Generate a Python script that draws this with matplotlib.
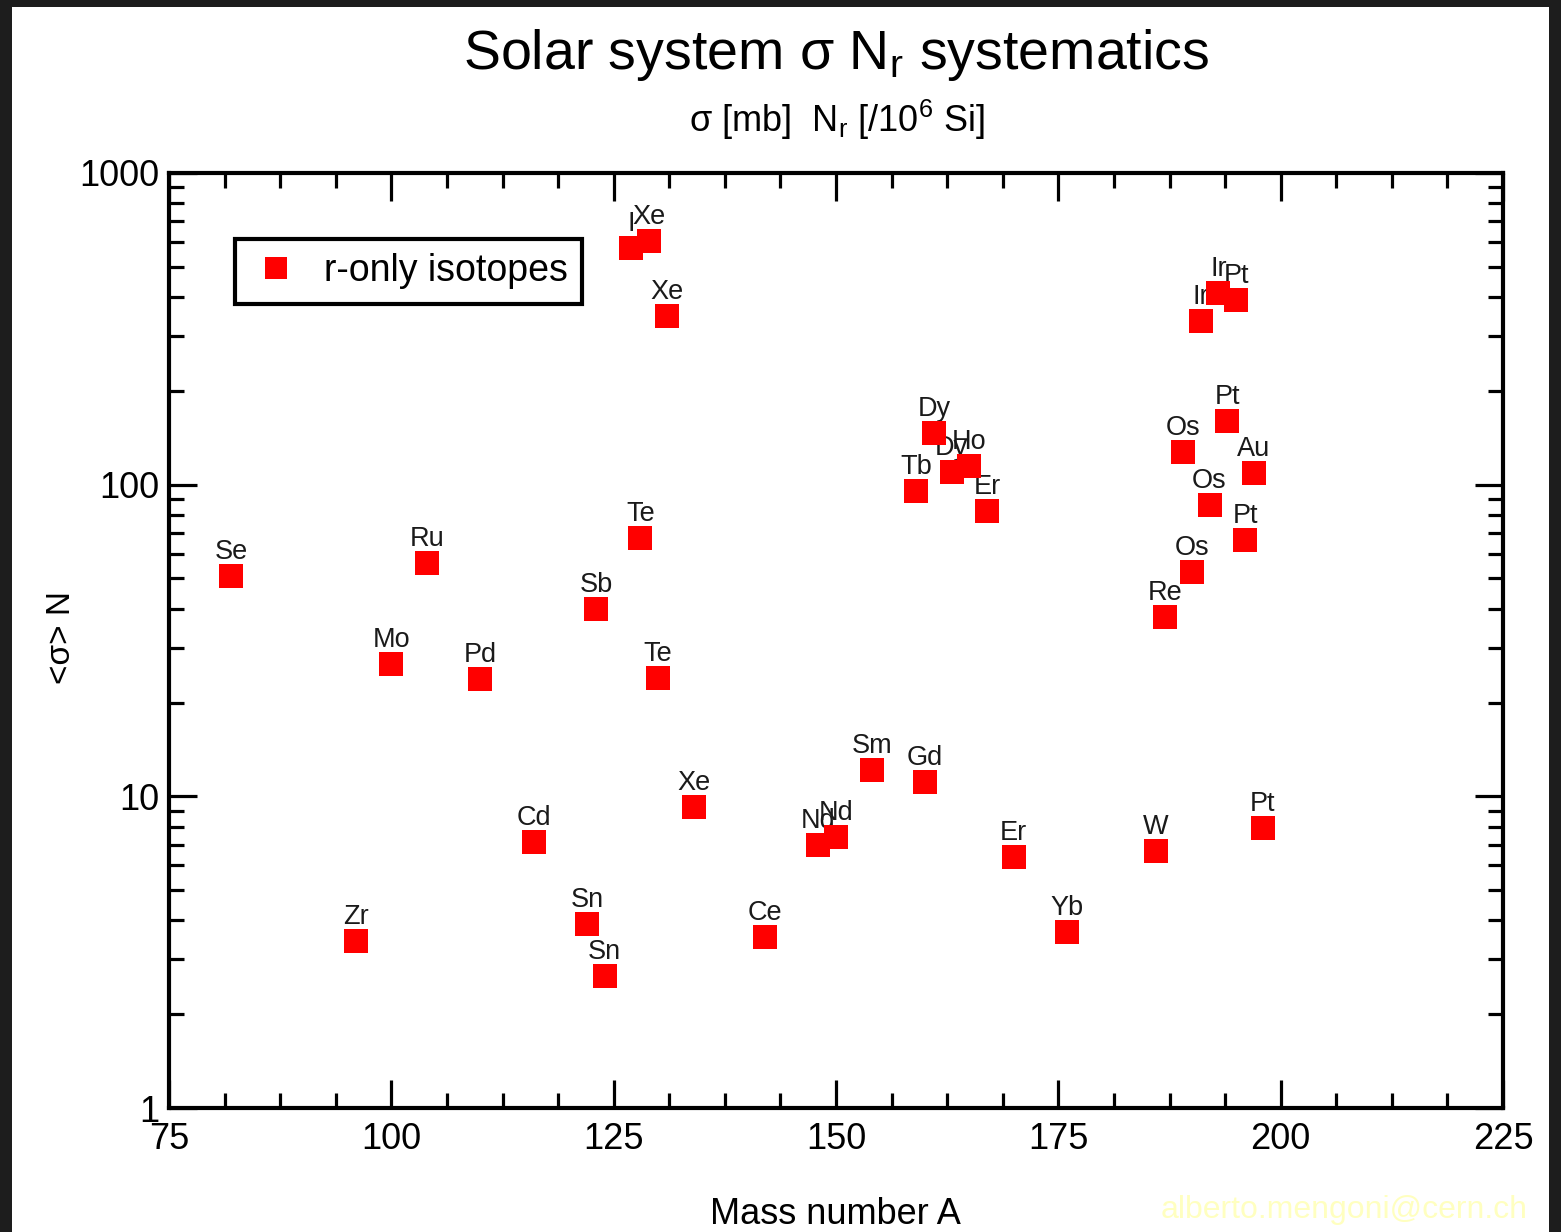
import numpy as np
import matplotlib
matplotlib.use("Agg")
import matplotlib.pyplot as plt
from matplotlib.patches import Rectangle
from matplotlib.ticker import MultipleLocator, LogLocator, NullFormatter, FixedLocator

plt.rcParams['font.family'] = ['Liberation Sans', 'DejaVu Sans']
plt.rcParams['mathtext.fontset'] = 'custom'
plt.rcParams['mathtext.rm'] = 'Liberation Sans'
plt.rcParams['mathtext.it'] = 'Liberation Sans:italic'

# r-only isotopes: mass number, sigma*N_r, element
mass = [82, 96, 100, 104, 110, 116, 122, 124, 123, 128, 130, 127, 129, 131, 134,
        142, 148, 150, 154, 160, 159, 161, 163, 165, 167, 170, 176, 186, 187,
        189, 190, 192, 191, 193, 195, 194, 197, 196, 198]
sigma_n = [51, 3.43, 26.6, 56.1, 23.8, 7.14, 3.89, 2.65, 39.9, 67.4, 24.0, 574, 605, 347, 9.24,
           3.54, 6.98, 7.40, 12.15, 11.1, 95.4, 146.5, 109.8, 114.8, 82.3, 6.39, 3.67, 6.68, 37.6,
           127.3, 52.5, 86.1, 335, 412, 391, 160, 109, 66.4, 7.91]
element = ['Se', 'Zr', 'Mo', 'Ru', 'Pd', 'Cd', 'Sn', 'Sn', 'Sb', 'Te', 'Te', 'I', 'Xe', 'Xe', 'Xe',
           'Ce', 'Nd', 'Nd', 'Sm', 'Gd', 'Tb', 'Dy', 'Dy', 'Ho', 'Er', 'Er', 'Yb', 'W', 'Re',
           'Os', 'Os', 'Os', 'Ir', 'Ir', 'Pt', 'Pt', 'Au', 'Pt', 'Pt']

x_ticks = [75, 100, 125, 150, 175, 200, 225]
y_ticks = [1, 10, 100, 1000]

fig = plt.figure(figsize=(15.61, 12.32), dpi=100)
fig.patch.set_facecolor('#1d1d1d')
fig.patches.append(Rectangle((12 / 1561, 0), (1549 - 12) / 1561, 1 - 7 / 1232,
                             transform=fig.transFigure, facecolor='white',
                             edgecolor='none', zorder=-5))

ax = fig.add_axes([169 / 1561, 1 - 1108 / 1232, (1503 - 169) / 1561, (1108 - 173) / 1232])
ax.set_zorder(1)
ax.set_facecolor('white')

ax.plot(mass, sigma_n, linestyle='none', marker='s', markersize=17,
        color='#ff0000', markeredgewidth=0, label='r-only isotopes', zorder=3)
for m, s, el in zip(mass, sigma_n, element):
    ax.annotate(el, (m, s), xytext=(0, 17.5), textcoords='offset points',
                ha='center', va='center', fontsize=19.5, color='#1a1a1a', zorder=2)

ax.set_yscale('log')
ax.set_xlim(75, 225)
ax.set_ylim(1, 1000)

ax.xaxis.set_major_locator(FixedLocator(x_ticks))
ax.xaxis.set_minor_locator(MultipleLocator(6.25))
ax.yaxis.set_major_locator(FixedLocator(y_ticks))
ax.yaxis.set_minor_locator(LogLocator(base=10, subs=np.arange(2, 10)))
ax.yaxis.set_minor_formatter(NullFormatter())
ax.set_xticklabels([str(t) for t in x_ticks])
ax.set_yticklabels([str(t) for t in y_ticks])

ax.tick_params(which='both', direction='in', top=True, right=True,
               width=2.3, color='black', labelsize=26)
ax.tick_params(which='major', length=20)
ax.tick_params(which='minor', length=11)
ax.tick_params(axis='x', which='major', pad=10)
ax.tick_params(axis='y', which='major', pad=7)
for sp in ax.spines.values():
    sp.set_linewidth(3)

leg = ax.legend(loc='upper left', bbox_to_anchor=((235 - 169) / 1334, (1108 - 239) / 935),
                borderaxespad=0, fontsize=27, frameon=True, fancybox=False, framealpha=1,
                handlelength=1.44, handletextpad=0.56, borderpad=0.38,
                markerscale=0.95, numpoints=1)
leg.get_frame().set_edgecolor('black')
leg.get_frame().set_linewidth(3)

fig.text(836 / 1561, 1 - 55 / 1232, r'Solar system σ N$_\mathregular{r}$ systematics',
         ha='center', va='center', fontsize=40)
fig.text(837 / 1561, 1 - 120 / 1232, r'σ [mb]  N$_\mathregular{r}$ [/10$^\mathregular{6}$ Si]',
         ha='center', va='center', fontsize=26)
fig.text(62 / 1561, 1 - 637 / 1232, '<σ> N', rotation=90,
         ha='center', va='center', fontsize=24)
fig.text(835 / 1561, 1 - 1215 / 1232, 'Mass number A',
         ha='center', va='center', fontsize=26)
fig.text(1528 / 1561, 1 - 1210 / 1232, 'alberto.mengoni@cern.ch',
         ha='right', va='center', fontsize=23, color='#ffffc0')

fig.savefig('out.png', dpi=100, facecolor=fig.get_facecolor())
